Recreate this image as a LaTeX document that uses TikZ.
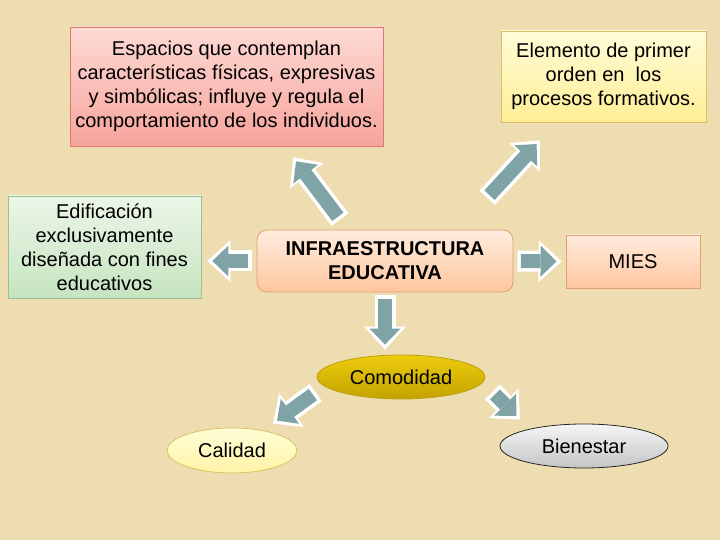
\documentclass[tikz,border=0pt]{standalone}
\usepackage{fontspec}
\setmainfont{Liberation Sans}
\usetikzlibrary{arrows.meta,shapes.geometric}
\definecolor{parch}{RGB}{238,221,176}
\definecolor{lpink}{RGB}{253,218,212}
\definecolor{dpink}{RGB}{246,164,156}
\definecolor{pinkline}{RGB}{222,120,110}
\definecolor{lyellow}{RGB}{255,252,216}
\definecolor{dyellow}{RGB}{255,238,150}
\definecolor{yellowline}{RGB}{214,194,100}
\definecolor{lgreen}{RGB}{236,246,232}
\definecolor{dgreen}{RGB}{198,228,192}
\definecolor{greenline}{RGB}{156,192,146}
\definecolor{lpeach}{RGB}{255,236,222}
\definecolor{dpeach}{RGB}{255,198,158}
\definecolor{peachline}{RGB}{222,160,112}
\definecolor{lgold}{RGB}{236,204,12}
\definecolor{dgold}{RGB}{196,162,0}
\definecolor{goldline}{RGB}{190,160,20}
\definecolor{lcream}{RGB}{255,253,214}
\definecolor{dcream}{RGB}{255,243,168}
\definecolor{creamline}{RGB}{214,196,96}
\definecolor{lgrey}{RGB}{246,246,246}
\definecolor{dgrey}{RGB}{196,196,196}
\definecolor{arrowteal}{RGB}{128,164,166}

\tikzset{
  box/.style={draw, rectangle, align=center, inner sep=2pt, line width=0.8pt},
  oval/.style={draw, ellipse, inner sep=0pt, line width=0.8pt},
  blockarrow/.style 2 args={draw=arrowteal, line width=14pt,
    shorten <=#1, shorten >=#2,
    -{Triangle[length=16pt,width=31pt,line width=0pt]},
    preaction={draw=white, line width=21pt,
      shorten <=#1-3.5pt, shorten >=#2-5pt,
      -{Triangle[length=23pt,width=42pt,line width=0pt]}}}
}

\begin{document}
\begin{tikzpicture}[x=1pt,y=1pt,font=\fontsize{20}{24}\selectfont]
  \fill[parch] (0,0) rectangle (720,540);
  \useasboundingbox (0,0) rectangle (720,540);

  % boxes round the centre
  \node [box, draw=pinkline, top color=lpink, bottom color=dpink,
         minimum width=313pt, minimum height=119pt] (espacios) at (226.5,453.5)
    {Espacios que contemplan\\características físicas, expresivas\\y simbólicas; influye y regula el\\comportamiento de los individuos.};
  \node [box, draw=yellowline, top color=lyellow, bottom color=dyellow,
         minimum width=205pt, minimum height=91pt] (elemento) at (603.5,463.5)
    {Elemento de primer\\orden en~ los\\procesos formativos.};
  \node [box, draw=greenline, top color=lgreen, bottom color=dgreen,
         minimum width=193pt, minimum height=102pt] (edif) at (104.5,293)
    {Edificación\\exclusivamente\\diseñada con fines\\educativos};
  \node [box, draw=peachline, top color=lpeach, bottom color=dpeach, rounded corners=10pt,
         minimum width=256pt, minimum height=62pt, font=\fontsize{20}{24}\selectfont\bfseries] (infra) at (385,279)
    {INFRAESTRUCTURA\\EDUCATIVA};
  \node [box, draw=peachline, top color=lpeach, bottom color=dpeach,
         minimum width=134pt, minimum height=53pt] (mies) at (633,278.5) {MIES};

  % ovals below
  \node [oval, draw=goldline, top color=lgold, bottom color=dgold,
         minimum width=168pt, minimum height=44pt] (comod) at (401,163) {Comodidad};
  \node [oval, draw=creamline, top color=lcream, bottom color=dcream,
         minimum width=130pt, minimum height=45pt] (calidad) at (232,89.5) {Calidad};
  \node [oval, draw=black!85, top color=lgrey, bottom color=dgrey,
         minimum width=168pt, minimum height=44pt] (bienestar) at (584,94) {Bienestar};

  % block arrows
  \draw [blockarrow={16pt}{18.7pt}] ([xshift=-37.5pt]infra.north) -- ([xshift=58.3pt]espacios.south);
  \draw [blockarrow={46.8pt}{29.4pt}] ([xshift=72.8pt]infra.north) -- ([xshift=-47pt]elemento.south);
  \draw [blockarrow={8.5pt}{11pt}] (infra.west) -- (infra.west -| edif.east);
  \draw [blockarrow={7.5pt}{9pt}] (infra.east) -- (mies.west);
  \draw [blockarrow={6.5pt}{10pt}] (infra.south) -- (infra.south |- comod.north);
  \draw [blockarrow={16.3pt}{11.8pt}] ([xshift=-75pt,yshift=-8pt]comod.center) -- ([xshift=35.5pt]calidad.north);
  \draw [blockarrow={24.7pt}{10.7pt}] ([xshift=-8pt]comod.east) -- ([xshift=-60pt]bienestar.north);
\end{tikzpicture}
\end{document}
